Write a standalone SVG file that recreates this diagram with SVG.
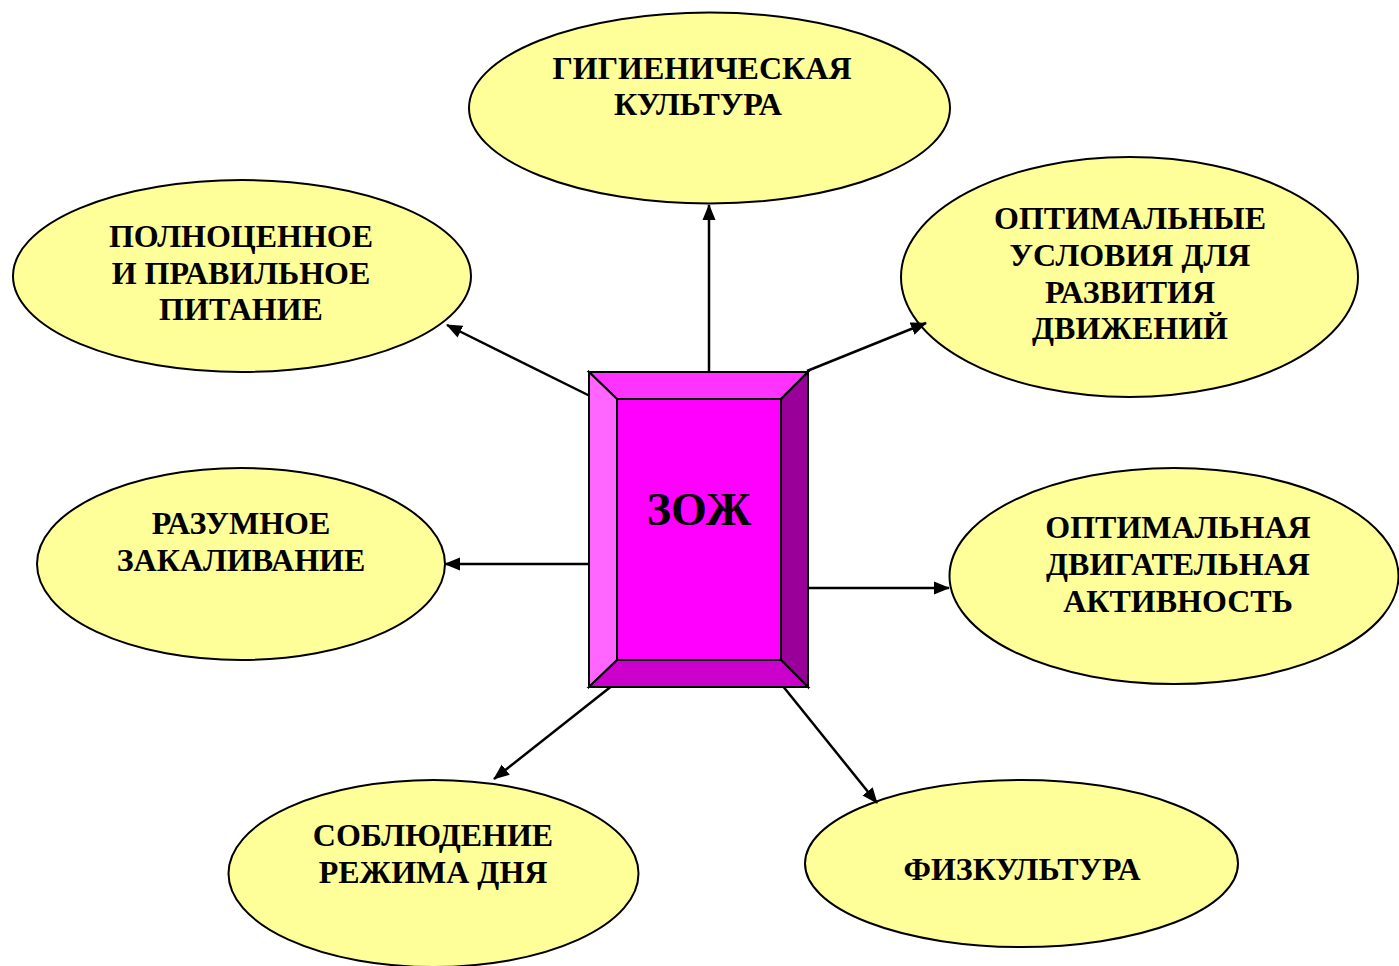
<svg xmlns="http://www.w3.org/2000/svg" width="1399" height="966" viewBox="0 0 1399 966">
<style>
.node ellipse{fill:#FFFF99;stroke:#000;stroke-width:2}
.lbl{font-family:"Liberation Serif","Times New Roman",serif;font-weight:bold;font-size:32px;fill:#000;text-anchor:middle}
.conn line{stroke:#000;stroke-width:2.5}
.bev{stroke:#000;stroke-width:2;stroke-linejoin:miter}
</style>
<defs>
<marker id="arr" markerUnits="userSpaceOnUse" markerWidth="16" markerHeight="14" refX="15" refY="6.5" orient="auto" viewBox="0 0 16 13">
<path d="M0,0 L16,6.5 L0,13 z" fill="#000"/>
</marker>
</defs>
<rect width="1399" height="966" fill="#fff"/>

<g id="n-gigiena" class="node">
<ellipse cx="709.5" cy="108" rx="240.5" ry="95.5"/>
<text class="lbl" x="702" y="79">ГИГИЕНИЧЕСКАЯ</text>
<text class="lbl" x="698" y="115">КУЛЬТУРА</text>
</g>
<g id="n-pitanie" class="node">
<ellipse cx="242" cy="276" rx="229" ry="96"/>
<text class="lbl" x="241" y="247">ПОЛНОЦЕННОЕ</text>
<text class="lbl" x="241" y="284">И ПРАВИЛЬНОЕ</text>
<text class="lbl" x="241" y="320">ПИТАНИЕ</text>
</g>
<g id="n-usloviya" class="node">
<ellipse cx="1129.5" cy="277" rx="228.5" ry="120"/>
<text class="lbl" x="1130" y="229">ОПТИМАЛЬНЫЕ</text>
<text class="lbl" x="1130" y="266">УСЛОВИЯ ДЛЯ</text>
<text class="lbl" x="1130" y="303">РАЗВИТИЯ</text>
<text class="lbl" x="1130" y="339">ДВИЖЕНИЙ</text>
</g>
<g id="n-zakalivanie" class="node">
<ellipse cx="241" cy="564" rx="204" ry="96"/>
<text class="lbl" x="241" y="534">РАЗУМНОЕ</text>
<text class="lbl" x="241" y="571">ЗАКАЛИВАНИЕ</text>
</g>
<g id="n-aktivnost" class="node">
<ellipse cx="1174" cy="576" rx="224.5" ry="108"/>
<text class="lbl" x="1178" y="538">ОПТИМАЛЬНАЯ</text>
<text class="lbl" x="1178" y="575">ДВИГАТЕЛЬНАЯ</text>
<text class="lbl" x="1178" y="612">АКТИВНОСТЬ</text>
</g>
<g id="n-rezhim" class="node">
<ellipse cx="433.5" cy="873.5" rx="205" ry="93.5"/>
<text class="lbl" x="433" y="846">СОБЛЮДЕНИЕ</text>
<text class="lbl" x="433" y="883">РЕЖИМА ДНЯ</text>
</g>
<g id="n-fizkultura" class="node">
<ellipse cx="1021.5" cy="863.5" rx="216.5" ry="83.5"/>
<text class="lbl" x="1022" y="880">ФИЗКУЛЬТУРА</text>
</g>

<g id="connectors" class="conn">
<line x1="709" y1="372" x2="709" y2="205" marker-end="url(#arr)"/>
<line x1="590" y1="396" x2="447" y2="325" marker-end="url(#arr)"/>
<line x1="807" y1="371" x2="926" y2="323" marker-end="url(#arr)"/>
<line x1="589" y1="564" x2="445" y2="564" marker-end="url(#arr)"/>
<line x1="808" y1="588" x2="949" y2="588" marker-end="url(#arr)"/>
<line x1="613" y1="685" x2="494" y2="779" marker-end="url(#arr)"/>
<line x1="782" y1="685" x2="877" y2="803" marker-end="url(#arr)"/>
</g>

<g id="n-zozh">
<polygon class="bev" points="589,372 808,372 781,399 617,399" fill="#FF33FF"/>
<polygon class="bev" points="589,372 617,399 617,660 589,687" fill="#FF66FF"/>
<polygon class="bev" points="808,372 808,687 781,660 781,399" fill="#990099"/>
<polygon class="bev" points="589,687 617,660 781,660 808,687" fill="#CC00CC"/>
<rect class="bev" x="617" y="399" width="164" height="261" fill="#FF00FF"/>
<text x="699" y="525" font-family="'Liberation Serif','Times New Roman',serif" font-weight="bold" font-size="46" text-anchor="middle" fill="#000">ЗОЖ</text>
</g>
</svg>
